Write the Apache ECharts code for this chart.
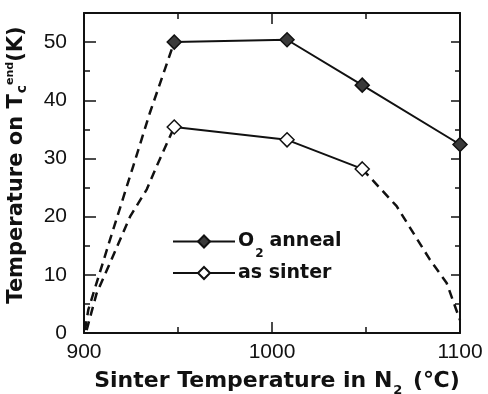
<!DOCTYPE html>
<html>
<head>
<meta charset="utf-8">
<script src="https://cdn.jsdelivr.net/npm/echarts@6/dist/echarts.min.js"></script>
<style>html,body{margin:0;padding:0;background:#fff}#c{width:488px;height:394px}</style>
</head>
<body>
<div id="c"></div>
<script>
// Data
var annealTemps = [948, 1008, 1048, 1100];
var annealTc = [50.0, 50.4, 42.6, 32.4];
var sinterTemps = [948, 1008, 1048];
var sinterTc = [35.4, 33.2, 28.2];
// hand-drawn dashed guide curves
var annealDashTemps = [900.5, 902.3, 906.7, 913.8, 926.2, 935.1, 948];
var annealDashTc = [0.5, 4.0, 8.6, 16.0, 28.7, 37.9, 50.0];
var sinterDashLeftTemps = [901.4, 906.7, 913.8, 924.5, 933.4, 938.7, 948];
var sinterDashLeftTc = [0.5, 6.8, 12.0, 20.0, 24.7, 28.7, 35.4];
var sinterDashRightTemps = [1048, 1066.3, 1084, 1092.9, 1100];
var sinterDashRightTc = [28.2, 21.8, 12.6, 8.6, 2.2];
var xTicks = [900, 1000, 1100];
var yTicks = [0, 10, 20, 30, 40, 50];

function pairs(xs, ys) { return xs.map(function (x, i) { return [x, ys[i]]; }); }

var ink = '#111';
var chart = echarts.init(document.getElementById('c'), null, { renderer: 'canvas' });
var xBase = {
  type: 'value', min: 900, max: 1100, interval: 100,
  axisLine: { show: true, onZero: false, lineStyle: { color: ink, width: 2 } },
  axisTick: { show: true, inside: true, length: 11, lineStyle: { color: ink, width: 1.5 } },
  minorTick: { show: true, splitNumber: 2, length: 6, lineStyle: { color: ink, width: 1.5 } },
  splitLine: { show: false }, minorSplitLine: { show: false }
};
var yBase = {
  type: 'value', min: 0, max: 55,
  splitLine: { show: false }
};
chart.setOption({
  animation: false,
  backgroundColor: '#fff',
  grid: { left: 84, right: 28, top: 13, bottom: 61, containLabel: false, outerBoundsMode: 'none' },
  xAxis: [
    Object.assign({}, xBase, {
      position: 'bottom',
      axisLabel: { show: true, margin: 9, color: ink, fontFamily: 'Liberation Sans', fontSize: 21,
        customValues: xTicks, formatter: function (v) { return String(v); } },
      name: '{a|Sinter Temperature in N}{s|2}{a| (℃)}',
      nameLocation: 'middle', nameGap: 31,
      nameTextStyle: {
        padding: [0, 0, 0, 10],
        rich: {
          a: { fontFamily: 'DejaVu Sans', fontWeight: 'bold', fontSize: 22, color: ink, lineHeight: 26, verticalAlign: 'middle' },
          s: { fontFamily: 'DejaVu Sans', fontWeight: 'bold', fontSize: 13, color: ink, lineHeight: 14, verticalAlign: 'bottom', padding: [0, 3, -3, 1] }
        },
        lineHeight: 34
      }
    }),
    Object.assign({}, xBase, { position: 'top', axisLabel: { show: false } })
  ],
  yAxis: [
    Object.assign({}, yBase, {
      position: 'left', interval: 10,
      axisLine: { show: true, onZero: false, lineStyle: { color: ink, width: 2 } },
      axisTick: { show: true, inside: true, length: 12, lineStyle: { color: ink, width: 1.5 }, customValues: yTicks },
      axisLabel: { show: true, margin: 17, color: ink, fontFamily: 'Liberation Sans', fontSize: 21, customValues: yTicks },
      name: '{a|Temperature on T}{sub|c}{sup|end}{a|(K)}',
      nameLocation: 'middle', nameGap: 55, nameRotate: 90,
      nameTextStyle: {
        padding: [0, 0, 0, 16],
        rich: {
          a: { fontFamily: 'DejaVu Sans', fontWeight: 'bold', fontSize: 21, color: ink, lineHeight: 24, verticalAlign: 'middle' },
          sub: { fontFamily: 'DejaVu Sans', fontWeight: 'bold', fontSize: 14, color: ink, lineHeight: 14, verticalAlign: 'bottom', padding: [0, 0, 0, 1] },
          sup: { fontFamily: 'DejaVu Sans', fontWeight: 'bold', fontSize: 11, color: ink, lineHeight: 12, verticalAlign: 'top' }
        }
      }
    }),
    Object.assign({}, yBase, {
      position: 'left', interval: 5,
      axisLine: { show: false, onZero: false },
      axisTick: { show: true, inside: true, length: 6, lineStyle: { color: ink, width: 1.5 } },
      axisLabel: { show: false }
    }),
    Object.assign({}, yBase, {
      position: 'right', interval: 10,
      axisLine: { show: true, onZero: false, lineStyle: { color: ink, width: 2 } },
      axisTick: { show: true, inside: true, length: 9, lineStyle: { color: ink, width: 1.5 }, customValues: yTicks },
      axisLabel: { show: false }
    }),
    Object.assign({}, yBase, {
      position: 'right', interval: 5,
      axisLine: { show: false, onZero: false },
      axisTick: { show: true, inside: true, length: 5, lineStyle: { color: ink, width: 1.5 } },
      axisLabel: { show: false }
    })
  ],
  legend: {
    data: ['O2 anneal', 'as sinter'],
    orient: 'vertical', left: 167, top: 227,
    itemWidth: 62, itemHeight: 15, itemGap: 4,
    inactiveColor: ink,
    formatter: function (name) {
      return name === 'O2 anneal' ? '{a|O}{s|2}{a|anneal}' : '{a|as sinter}';
    },
    textStyle: {
      padding: [0, 0, 0, -2],
      rich: {
        a: { fontFamily: 'DejaVu Sans', fontWeight: 'bold', fontSize: 19, color: ink, lineHeight: 20, verticalAlign: 'middle' },
        s: { fontFamily: 'DejaVu Sans', fontWeight: 'bold', fontSize: 12, color: ink, lineHeight: 12, verticalAlign: 'bottom', padding: [0, 6, -8, 1] }
      }
    }
  },
  series: [
    {
      name: 'anneal guide', type: 'line', data: pairs(annealDashTemps, annealDashTc),
      symbol: 'none', smooth: false, silent: true,
      lineStyle: { color: ink, width: 2.5, type: [9, 6] }, z: 2
    },
    {
      name: 'sinter guide left', type: 'line', data: pairs(sinterDashLeftTemps, sinterDashLeftTc),
      symbol: 'none', smooth: false, silent: true,
      lineStyle: { color: ink, width: 2.5, type: [9, 6] }, z: 2
    },
    {
      name: 'sinter guide right', type: 'line', data: pairs(sinterDashRightTemps, sinterDashRightTc),
      symbol: 'none', smooth: false, silent: true,
      lineStyle: { color: ink, width: 2.5, type: [9, 6] }, z: 2
    },
    {
      name: 'O2 anneal', type: 'line', data: pairs(annealTemps, annealTc),
      symbol: 'diamond', symbolSize: 14, showAllSymbol: true,
      lineStyle: { color: ink, width: 2 },
      itemStyle: { color: '#3a3a3a', borderColor: ink, borderWidth: 1.5 }, z: 4
    },
    {
      name: 'as sinter', type: 'line', data: pairs(sinterTemps, sinterTc),
      symbol: 'diamond', symbolSize: 14, showAllSymbol: true,
      lineStyle: { color: ink, width: 2 },
      itemStyle: { color: '#fff', borderColor: ink, borderWidth: 1.5 }, z: 4
    }
  ]
});
</script>
</body>
</html>
